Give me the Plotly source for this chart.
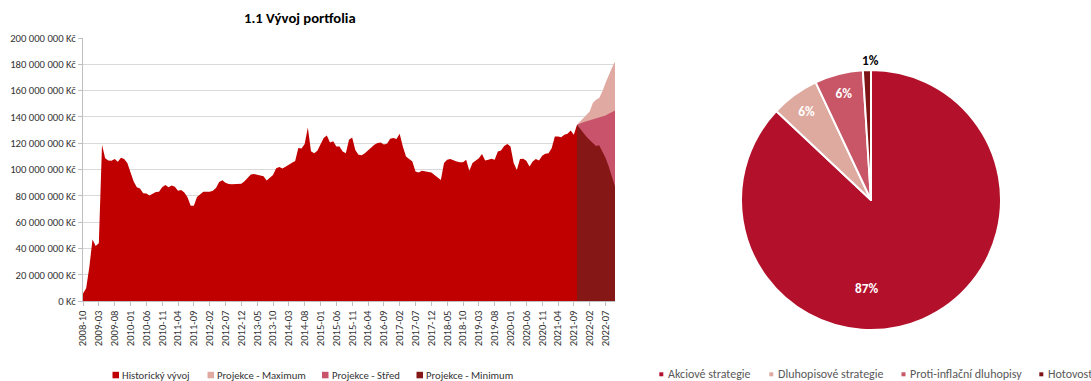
import pandas as pd
import plotly.graph_objects as go

# Monthly categories of the portfolio chart (2008-10 .. 2022-10)
months = pd.date_range("2008-10-01", "2022-10-01", freq="MS").strftime("%Y-%m").tolist()

# Historical portfolio value, millions CZK (2008-10 .. 2021-10)
historic_mil = [
    6, 10, 26, 47, 42, 44, 119, 108.7, 107, 106.7, 108, 106, 109, 108, 105, 98.6,
    91, 86.7, 85.6, 82, 81.8, 80.3, 82, 83, 83.3, 86.7, 88.4, 86.7, 87.9, 87.1, 84,
    84.6, 82.6, 79, 72.5, 72.5, 79.3, 81.6, 83.3, 83.3, 83.3, 84, 86, 90.6, 92,
    90, 89.1, 89, 89.1, 89, 89.2, 91.2, 93.5, 96.3, 96.7, 96, 95.6, 95, 91.7, 93.9,
    96, 101, 102, 100.8, 102.6, 103.8, 105.2, 106.5, 116.5, 116, 119.5, 132, 114,
    112.5, 114.4, 119.7, 124, 126, 120.6, 121.6, 117.6, 117.6, 113.8, 112.5, 122.7,
    124.4, 115, 111.3, 111, 112.5, 114.5, 117.1, 118.9, 120.2, 120.6, 119.1, 119.6,
    123.4, 124, 123.2, 127.2, 117.6, 110, 108, 106.2, 98.6, 97.8, 99.1, 98.6, 97.8,
    97.8, 96, 94.3, 92.2, 105, 107.5, 108, 106.9, 106.2, 105.7, 105.7, 107.5, 99.1,
    105, 106.9, 108.7, 111.8, 106.9, 107.5, 108.2, 107.5, 113.8, 114.5, 118, 119.4,
    117.6, 105, 99.8, 108, 108.2, 106.7, 102.4, 106.2, 108, 106.9, 110.5, 112,
    112.5, 116.3, 125.2, 125.2, 124.7, 126.5, 127.2, 129.7, 126.5, 134.1,
]

# Projections, millions CZK (2021-10 .. 2022-10)
proj_max_mil = [134.1, 136.6, 139.2, 141.7, 144.2, 150.6, 153.1, 154.4, 159.4, 165.8, 172.1, 177.2, 182.2]
proj_mid_mil = [134.1, 135.3, 136.0, 136.8, 137.5, 138.0, 138.6, 139.3, 140.2, 141.2, 142.4, 143.6, 145.0]
proj_min_mil = [134.1, 131.0, 127.5, 125.0, 122.5, 120.5, 118.0, 118.5, 114.0, 109.0, 102.5, 95.5, 87.2]

# Current allocation (percent)
pie_labels = ["Akciové strategie", "Dluhopisové strategie", "Proti-inflační dluhopisy", "Hotovost"]
pie_values = [87, 6, 6, 1]

area_names = ["Historický vývoj", "Projekce - Maximum", "Projekce - Střed", "Projekce - Minimum"]
area_colors = ["#C00000", "#E0AAA2", "#C9536A", "#861717"]
pie_colors = ["#B3112B", "#DEAAA0", "#C85667", "#7E1416"]

FONT = "Carlito, 'Liberation Sans Narrow', 'Liberation Sans', sans-serif"
W, H = 1091, 381
M_L, M_R, M_T, M_B = 83, 0, 38, 45
PW, PH = W - M_L - M_R, H - M_T - M_B


def px(x):
    return (x - M_L) / PW


def py(y):
    return (H - M_B - y) / PH


n_hist = len(historic_mil)
x_hist = months[:n_hist]
x_proj = months[n_hist - 1:]

fig = go.Figure()
fig.add_trace(go.Scatter(
    x=x_hist, y=[v * 1e6 for v in historic_mil], name=area_names[0],
    mode="lines", line=dict(width=0, color=area_colors[0]),
    fill="tozeroy", fillcolor=area_colors[0], showlegend=False,
))
for name, vals, col in zip(area_names[1:], [proj_max_mil, proj_mid_mil, proj_min_mil], area_colors[1:]):
    fig.add_trace(go.Scatter(
        x=x_proj, y=[v * 1e6 for v in vals], name=name,
        mode="lines", line=dict(width=0, color=col),
        fill="tozeroy", fillcolor=col, showlegend=False,
    ))

# Allocation pie; the two small inner labels come from the trace itself,
# the large-slice and the tiny-slice labels are placed as annotations below
fig.add_trace(go.Pie(
    labels=pie_labels, values=pie_values, sort=False, direction="clockwise", rotation=0,
    marker=dict(colors=pie_colors, line=dict(color="white", width=2)),
    texttemplate="%{percent:.0%}",
    textposition=["none", "inside", "inside", "none"],
    insidetextorientation="horizontal",
    textfont=dict(family=FONT, size=13.3, color="white", weight="bold"),
    domain=dict(x=[px(741), px(1001)], y=[py(330), py(70)]),
    showlegend=False, hoverinfo="label+percent",
))

fig.update_layout(
    width=W, height=H,
    margin=dict(l=M_L, r=M_R, t=M_T, b=M_B),
    paper_bgcolor="white", plot_bgcolor="white",
    separators=", ",
    font=dict(family=FONT, size=10.67, color="#333333"),
    xaxis=dict(
        type="category", domain=[0, px(615)], range=[0, len(months) - 1],
        tickmode="array", tickvals=months[::5], ticktext=months[::5],
        tickangle=-90, ticks="outside", ticklen=4, tickcolor="#BFBFBF",
        showline=True, linecolor="#BFBFBF", linewidth=1, showgrid=False,
        tickfont=dict(size=10.67, color="#333333"),
    ),
    yaxis=dict(
        domain=[py(301.3), 1], range=[0, 200e6], dtick=20e6, tick0=0,
        tickformat=",d", ticksuffix=" Kč",
        ticks="outside", ticklen=4, tickcolor="#BFBFBF",
        showline=True, linecolor="#BFBFBF", linewidth=1,
        showgrid=True, gridcolor="#D9D9D9", gridwidth=1, zeroline=False,
        tickfont=dict(size=10.67, color="#333333"),
    ),
)

total = sum(pie_values)
annotations = [
    dict(text="1.1 Vývoj portfolia", x=px(300), y=py(18), xref="paper", yref="paper",
         showarrow=False, xanchor="center", yanchor="middle",
         font=dict(family=FONT, size=14.67, color="black", weight="bold")),
    dict(text=f"{round(100 * pie_values[0] / total)}%", x=px(866), y=py(288),
         xref="paper", yref="paper", showarrow=False, xanchor="center", yanchor="middle",
         font=dict(family=FONT, size=13.3, color="white", weight="bold")),
    dict(text=f"{round(100 * pie_values[3] / total)}%", x=px(870), y=py(60),
         xref="paper", yref="paper", showarrow=False, xanchor="center", yanchor="middle",
         font=dict(family=FONT, size=13.3, color="black", weight="bold")),
]
shapes = []

# Legend of the area chart
for name, col, mx in zip(area_names, area_colors, [112.5, 207.5, 322, 416.5]):
    shapes.append(dict(type="rect", xref="paper", yref="paper",
                       x0=px(mx), x1=px(mx + 6.5), y0=py(378.3), y1=py(371.8),
                       fillcolor=col, line=dict(width=0)))
    annotations.append(dict(text=name, x=px(mx + 7.5), y=py(375), xref="paper", yref="paper",
                            showarrow=False, xanchor="left", yanchor="middle",
                            font=dict(family=FONT, size=10.67, color="#333333")))

# Legend of the allocation pie
for name, col, mx in zip(pie_labels, pie_colors, [659.3, 769.3, 901.5, 1039.3]):
    shapes.append(dict(type="rect", xref="paper", yref="paper",
                       x0=px(mx), x1=px(mx + 4), y0=py(376.3), y1=py(372.3),
                       fillcolor=col, line=dict(width=0)))
    annotations.append(dict(text=name, x=px(mx + 6.5), y=py(374.3), xref="paper", yref="paper",
                            showarrow=False, xanchor="left", yanchor="middle",
                            font=dict(family=FONT, size=12, color="#595959")))

fig.update_layout(annotations=annotations, shapes=shapes)

fig.write_html("out.html")
